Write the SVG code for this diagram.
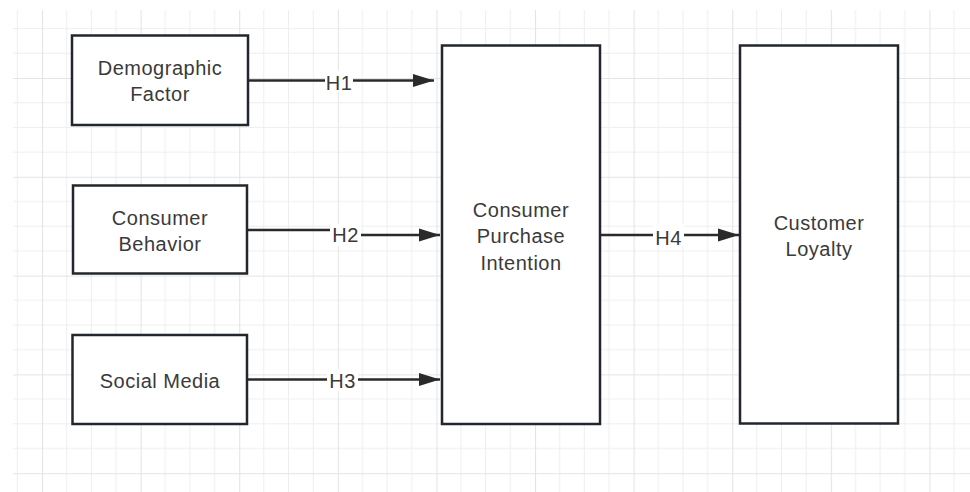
<svg xmlns="http://www.w3.org/2000/svg" width="970" height="492" viewBox="0 0 970 492">
  <style>
    .box { fill: #ffffff; stroke: #22272d; stroke-width: 2.5; }
    .txt { font-family: "Liberation Sans", Arial, sans-serif; font-size: 20px; fill: #3a3a3a; text-anchor: middle; letter-spacing: 0.5px; }
    .edge { stroke: #2a2a2a; stroke-width: 2.5; fill: none; }
    .lblbg { fill: #ffffff; }
    .minor { stroke: #eeeeee; stroke-width: 1; }
    .major { stroke: #e4e4e4; stroke-width: 1.2; }
  </style>
  <defs>
    <pattern id="grid" patternUnits="userSpaceOnUse" x="42" y="78" width="98.6" height="98.8">
      <line class="minor" x1="24.65" y1="0" x2="24.65" y2="98.8"/>
      <line class="minor" x1="49.3" y1="0" x2="49.3" y2="98.8"/>
      <line class="minor" x1="73.95" y1="0" x2="73.95" y2="98.8"/>
      <line class="minor" x1="0" y1="24.7" x2="98.6" y2="24.7"/>
      <line class="minor" x1="0" y1="49.4" x2="98.6" y2="49.4"/>
      <line class="minor" x1="0" y1="74.1" x2="98.6" y2="74.1"/>
      <line class="major" x1="0.5" y1="0" x2="0.5" y2="98.8"/>
      <line class="major" x1="0" y1="0.5" x2="98.6" y2="0.5"/>
    </pattern>
    <marker id="arrow" markerUnits="userSpaceOnUse" markerWidth="24" markerHeight="14" refX="21" refY="6.5" orient="auto" overflow="visible">
      <path d="M0,0 L21,6.5 L0,13 Z" fill="#2a2a2a"/>
    </marker>
  </defs>
  <rect x="0" y="0" width="970" height="492" fill="#ffffff"/>
  <rect x="13" y="10" width="957" height="482" fill="url(#grid)"/>

  <g id="connectors">
    <g id="e1">
      <line class="edge" x1="248" y1="80.5" x2="434" y2="80.5" marker-end="url(#arrow)"/>
      <rect class="lblbg" x="325" y="70" width="28" height="22"/>
      <text class="txt" x="339" y="90">H1</text>
    </g>
    <g id="e2">
      <polyline class="edge" points="248,230 345,230 345,235 440,235" marker-end="url(#arrow)"/>
      <rect class="lblbg" x="330" y="224" width="31" height="22"/>
      <text class="txt" x="345.5" y="242">H2</text>
    </g>
    <g id="e3">
      <line class="edge" x1="247" y1="379.5" x2="440" y2="379.5" marker-end="url(#arrow)"/>
      <rect class="lblbg" x="327" y="369" width="31" height="22"/>
      <text class="txt" x="342.5" y="388">H3</text>
    </g>
    <g id="e4">
      <line class="edge" x1="600" y1="235" x2="739" y2="235" marker-end="url(#arrow)"/>
      <rect class="lblbg" x="653" y="224" width="31" height="22"/>
      <text class="txt" x="668.5" y="245">H4</text>
    </g>
  </g>

  <g id="demographic">
    <rect class="box" x="72" y="35.5" width="176" height="89.5"/>
    <text class="txt" x="160" y="75">Demographic</text>
    <text class="txt" x="160" y="101">Factor</text>
  </g>
  <g id="behavior">
    <rect class="box" x="73" y="185.5" width="174" height="88"/>
    <text class="txt" x="160" y="225">Consumer</text>
    <text class="txt" x="160" y="251">Behavior</text>
  </g>
  <g id="social">
    <rect class="box" x="72.5" y="335" width="174.5" height="89"/>
    <text class="txt" x="160" y="388">Social Media</text>
  </g>
  <g id="intention">
    <rect class="box" x="442" y="45.5" width="158" height="378.5"/>
    <text class="txt" x="521" y="217">Consumer</text>
    <text class="txt" x="521" y="243">Purchase</text>
    <text class="txt" x="521" y="270">Intention</text>
  </g>
  <g id="loyalty">
    <rect class="box" x="740" y="45.5" width="158" height="378"/>
    <text class="txt" x="819" y="230">Customer</text>
    <text class="txt" x="819" y="256">Loyalty</text>
  </g>
</svg>
